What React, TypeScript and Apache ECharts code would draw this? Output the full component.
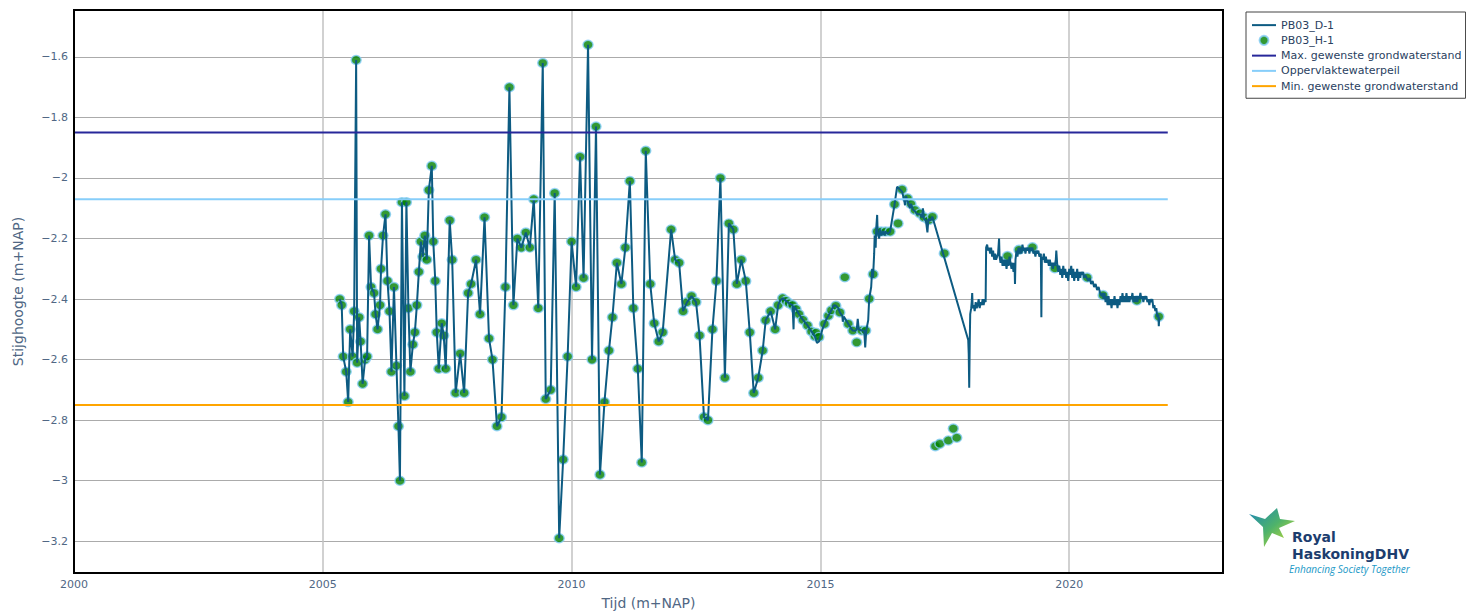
import React, { useEffect, useRef } from "react";
import * as echarts from "echarts";

// ---- data (decimal year, m+NAP) ----
// manual measurements PB03_H-1 that are also the vertices of the early PB03_D-1 line
const h1Early: number[][] = [
  [2005.34, -2.40], [2005.38, -2.42], [2005.41, -2.59], [2005.47, -2.64], [2005.51, -2.74],
  [2005.55, -2.50], [2005.60, -2.59], [2005.63, -2.44], [2005.67, -1.61], [2005.69, -2.61],
  [2005.73, -2.46], [2005.76, -2.54], [2005.80, -2.68], [2005.85, -2.60], [2005.89, -2.59],
  [2005.93, -2.19], [2005.97, -2.36], [2006.03, -2.38], [2006.06, -2.45], [2006.10, -2.50],
  [2006.15, -2.42], [2006.17, -2.30], [2006.21, -2.19], [2006.26, -2.12], [2006.30, -2.34],
  [2006.34, -2.44], [2006.38, -2.64], [2006.43, -2.36], [2006.48, -2.62], [2006.52, -2.82],
  [2006.55, -3.00], [2006.59, -2.08], [2006.64, -2.72], [2006.68, -2.08], [2006.72, -2.43],
  [2006.76, -2.64], [2006.81, -2.55], [2006.85, -2.51], [2006.89, -2.42], [2006.93, -2.31],
  [2006.97, -2.21], [2007.01, -2.26], [2007.05, -2.19], [2007.09, -2.27], [2007.13, -2.04],
  [2007.19, -1.96], [2007.22, -2.21], [2007.26, -2.34], [2007.29, -2.51], [2007.33, -2.63],
  [2007.39, -2.48], [2007.43, -2.52], [2007.47, -2.63], [2007.55, -2.14], [2007.60, -2.27],
  [2007.67, -2.71], [2007.76, -2.58], [2007.84, -2.71], [2007.92, -2.38], [2007.98, -2.35],
  [2008.08, -2.27], [2008.16, -2.45], [2008.25, -2.13], [2008.34, -2.53], [2008.41, -2.60],
  [2008.50, -2.82], [2008.59, -2.79], [2008.67, -2.36], [2008.75, -1.70], [2008.83, -2.42],
  [2008.91, -2.20], [2008.99, -2.23], [2009.08, -2.18], [2009.16, -2.23], [2009.24, -2.07],
  [2009.33, -2.43], [2009.42, -1.62], [2009.48, -2.73], [2009.58, -2.70], [2009.66, -2.05],
  [2009.75, -3.19], [2009.83, -2.93], [2009.92, -2.59], [2010.00, -2.21], [2010.09, -2.36],
  [2010.17, -1.93], [2010.24, -2.33], [2010.33, -1.56], [2010.41, -2.60], [2010.49, -1.83],
  [2010.57, -2.98], [2010.66, -2.74], [2010.75, -2.57], [2010.82, -2.46], [2010.91, -2.28],
  [2011.00, -2.35], [2011.08, -2.23], [2011.17, -2.01], [2011.24, -2.43], [2011.33, -2.63],
  [2011.41, -2.94], [2011.49, -1.91], [2011.58, -2.35], [2011.66, -2.48], [2011.75, -2.54],
  [2011.83, -2.51], [2012.00, -2.17], [2012.08, -2.27], [2012.16, -2.28], [2012.24, -2.44],
  [2012.32, -2.41], [2012.41, -2.39], [2012.50, -2.41], [2012.57, -2.52], [2012.66, -2.79],
  [2012.74, -2.80], [2012.83, -2.50], [2012.91, -2.34], [2012.99, -2.00], [2013.08, -2.66],
  [2013.16, -2.15], [2013.25, -2.17], [2013.32, -2.35], [2013.41, -2.27], [2013.50, -2.34],
  [2013.58, -2.51], [2013.66, -2.71], [2013.75, -2.66], [2013.84, -2.57], [2013.90, -2.47],
  [2014.00, -2.44], [2014.09, -2.50], [2014.15, -2.42],
];

// later manual measurements PB03_H-1 (markers only)
const h1Late: number[][] = [
  [2014.24, -2.397], [2014.31, -2.406], [2014.37, -2.414], [2014.44, -2.420], [2014.51, -2.433],
  [2014.57, -2.450], [2014.65, -2.469], [2014.74, -2.487], [2014.82, -2.507], [2014.89, -2.523],
  [2014.91, -2.511], [2014.97, -2.525], [2015.08, -2.482], [2015.16, -2.455], [2015.22, -2.437],
  [2015.31, -2.422], [2015.39, -2.444], [2015.49, -2.328], [2015.56, -2.482], [2015.65, -2.504],
  [2015.73, -2.543], [2015.83, -2.504], [2015.91, -2.504], [2015.98, -2.399], [2016.06, -2.318],
  [2016.14, -2.177], [2016.22, -2.177], [2016.31, -2.177], [2016.40, -2.177], [2016.49, -2.087],
  [2016.56, -2.150], [2016.64, -2.038], [2016.75, -2.067], [2016.82, -2.086], [2016.90, -2.106],
  [2017.00, -2.117], [2017.08, -2.130], [2017.18, -2.139], [2017.25, -2.128], [2017.49, -2.249],
  [2017.31, -2.886], [2017.40, -2.878], [2017.57, -2.867], [2017.67, -2.828], [2017.74, -2.858],
  [2018.76, -2.258], [2018.99, -2.237], [2019.26, -2.229], [2019.71, -2.298], [2020.36, -2.329],
  [2020.68, -2.387], [2021.36, -2.405], [2021.80, -2.458],
];

// logger PB03_D-1 (dense part)
const diverLate: number[][] = [
  [2014.19, -2.405], [2014.24, -2.397], [2014.31, -2.406], [2014.37, -2.414], [2014.44, -2.420],
  [2014.46, -2.500], [2014.47, -2.425], [2014.51, -2.433], [2014.57, -2.450], [2014.65, -2.469],
  [2014.74, -2.487], [2014.82, -2.507], [2014.89, -2.523], [2014.93, -2.545], [2014.97, -2.540],
  [2015.00, -2.525], [2015.04, -2.500], [2015.08, -2.482], [2015.12, -2.466], [2015.16, -2.455],
  [2015.22, -2.437], [2015.27, -2.420], [2015.31, -2.422], [2015.36, -2.430], [2015.39, -2.444],
  [2015.44, -2.456], [2015.45, -2.475], [2015.47, -2.458], [2015.56, -2.482], [2015.61, -2.495],
  [2015.65, -2.504], [2015.70, -2.505], [2015.73, -2.500], [2015.75, -2.465], [2015.77, -2.500],
  [2015.83, -2.504], [2015.88, -2.504], [2015.90, -2.560], [2015.92, -2.505], [2015.96, -2.470],
  [2015.98, -2.399], [2016.02, -2.360], [2016.04, -2.300], [2016.05, -2.330], [2016.06, -2.318],
  [2016.08, -2.250], [2016.09, -2.190], [2016.11, -2.230], [2016.12, -2.170], [2016.14, -2.122],
  [2016.15, -2.180], [2016.18, -2.200], [2016.20, -2.170], [2016.23, -2.190], [2016.26, -2.175],
  [2016.29, -2.190], [2016.31, -2.176], [2016.35, -2.185], [2016.40, -2.177], [2016.49, -2.087],
  [2016.54, -2.029], [2016.58, -2.035], [2016.64, -2.045], [2016.68, -2.070], [2016.70, -2.090],
  [2016.72, -2.060], [2016.75, -2.075], [2016.80, -2.100], [2016.82, -2.085], [2016.86, -2.105],
  [2016.90, -2.110], [2016.95, -2.120], [2017.00, -2.120], [2017.04, -2.130], [2017.06, -2.100],
  [2017.08, -2.135], [2017.12, -2.140], [2017.15, -2.180], [2017.17, -2.135], [2017.21, -2.140],
  [2017.25, -2.128], [2017.97, -2.535], [2017.98, -2.580], [2017.99, -2.693], [2018.00, -2.550],
  [2018.01, -2.450], [2018.03, -2.430], [2018.04, -2.410], [2018.05, -2.380], [2018.06, -2.430],
  [2018.08, -2.420], [2018.10, -2.440], [2018.12, -2.410], [2018.14, -2.430], [2018.16, -2.420],
  [2018.18, -2.400], [2018.20, -2.430], [2018.22, -2.410], [2018.24, -2.420], [2018.26, -2.400],
  [2018.28, -2.420], [2018.30, -2.400], [2018.32, -2.410], [2018.33, -2.230], [2018.35, -2.220],
  [2018.37, -2.240], [2018.39, -2.230], [2018.41, -2.250], [2018.43, -2.230], [2018.45, -2.260],
  [2018.47, -2.240], [2018.49, -2.270], [2018.51, -2.250], [2018.53, -2.270], [2018.55, -2.260],
  [2018.57, -2.250], [2018.59, -2.200], [2018.60, -2.260], [2018.62, -2.280], [2018.64, -2.260],
  [2018.66, -2.290], [2018.68, -2.270], [2018.70, -2.290], [2018.72, -2.270], [2018.74, -2.300],
  [2018.76, -2.270], [2018.78, -2.290], [2018.80, -2.260], [2018.82, -2.280], [2018.84, -2.300],
  [2018.86, -2.280], [2018.88, -2.310], [2018.90, -2.280], [2018.91, -2.350], [2018.92, -2.270],
  [2018.94, -2.240], [2018.96, -2.260], [2018.98, -2.230], [2019.00, -2.250], [2019.02, -2.230],
  [2019.04, -2.250], [2019.06, -2.220], [2019.08, -2.240], [2019.10, -2.230], [2019.12, -2.250],
  [2019.14, -2.230], [2019.16, -2.240], [2019.18, -2.230], [2019.20, -2.250], [2019.22, -2.230],
  [2019.24, -2.240], [2019.26, -2.230], [2019.28, -2.250], [2019.30, -2.240], [2019.32, -2.260],
  [2019.34, -2.240], [2019.36, -2.250], [2019.38, -2.240], [2019.40, -2.260], [2019.43, -2.250],
  [2019.44, -2.460], [2019.45, -2.260], [2019.47, -2.270], [2019.49, -2.250], [2019.51, -2.280],
  [2019.53, -2.260], [2019.55, -2.280], [2019.57, -2.270], [2019.59, -2.290], [2019.61, -2.270],
  [2019.63, -2.290], [2019.65, -2.280], [2019.67, -2.300], [2019.69, -2.280], [2019.71, -2.290],
  [2019.73, -2.270], [2019.74, -2.240], [2019.76, -2.290], [2019.78, -2.310], [2019.80, -2.290],
  [2019.82, -2.320], [2019.84, -2.300], [2019.86, -2.330], [2019.88, -2.290], [2019.90, -2.320],
  [2019.92, -2.300], [2019.94, -2.330], [2019.96, -2.310], [2019.98, -2.340], [2020.00, -2.300],
  [2020.02, -2.320], [2020.04, -2.290], [2020.06, -2.330], [2020.08, -2.300], [2020.10, -2.340],
  [2020.12, -2.310], [2020.14, -2.330], [2020.16, -2.300], [2020.18, -2.340], [2020.20, -2.310],
  [2020.22, -2.330], [2020.24, -2.310], [2020.26, -2.320], [2020.28, -2.310], [2020.30, -2.330],
  [2020.32, -2.320], [2020.35, -2.330], [2020.38, -2.340], [2020.41, -2.330], [2020.44, -2.350],
  [2020.47, -2.340], [2020.50, -2.360], [2020.53, -2.350], [2020.56, -2.370], [2020.59, -2.360],
  [2020.62, -2.380], [2020.65, -2.390], [2020.67, -2.380], [2020.69, -2.400], [2020.71, -2.380],
  [2020.73, -2.410], [2020.75, -2.390], [2020.77, -2.420], [2020.79, -2.390], [2020.81, -2.420],
  [2020.83, -2.400], [2020.85, -2.430], [2020.87, -2.400], [2020.89, -2.420], [2020.91, -2.390],
  [2020.93, -2.420], [2020.95, -2.400], [2020.97, -2.430], [2020.99, -2.400], [2021.01, -2.420],
  [2021.03, -2.390], [2021.05, -2.410], [2021.07, -2.380], [2021.09, -2.410], [2021.11, -2.390],
  [2021.13, -2.410], [2021.15, -2.380], [2021.17, -2.410], [2021.19, -2.390], [2021.21, -2.410],
  [2021.23, -2.390], [2021.25, -2.400], [2021.27, -2.380], [2021.29, -2.410], [2021.31, -2.390],
  [2021.33, -2.410], [2021.35, -2.390], [2021.37, -2.410], [2021.39, -2.390], [2021.41, -2.400],
  [2021.43, -2.380], [2021.45, -2.400], [2021.47, -2.390], [2021.49, -2.410], [2021.51, -2.390],
  [2021.53, -2.400], [2021.55, -2.390], [2021.57, -2.410], [2021.59, -2.400], [2021.61, -2.420],
  [2021.63, -2.400], [2021.65, -2.410], [2021.67, -2.400], [2021.69, -2.430], [2021.71, -2.420],
  [2021.73, -2.440], [2021.75, -2.430], [2021.77, -2.460], [2021.79, -2.450], [2021.80, -2.490],
  [2021.81, -2.460],
];

// reference levels
const maxLevel = -1.85;
const surfaceLevel = -2.07;
const minLevel = -2.75;
const refStart = 2000;
const refEnd = 2021.98;

const seriesNames = [
  "PB03_D-1",
  "PB03_H-1",
  "Max. gewenste grondwaterstand",
  "Oppervlaktewaterpeil",
  "Min. gewenste grondwaterstand",
];

const FONT = "DejaVu Sans";
const AXIS_COLOR = "#506784";
const LINE_ICON = "path://M0,0L24,0L24,2L0,2Z";

export default function App() {
  const ref = useRef<HTMLDivElement>(null);

  useEffect(() => {
    if (!ref.current) return;
    const chart = echarts.init(ref.current, undefined, { renderer: "svg" });

    const diverData = [...h1Early, ...diverLate];
    const h1Data = [...h1Early, ...h1Late];
    const refLine = (v: number) => [
      [refStart, v],
      [refEnd, v],
    ];

    const starPoints = [
      [1249, 514], [1265, 519], [1277, 508], [1280, 519], [1295, 521],
      [1279, 528], [1284, 538], [1272, 533], [1264, 547], [1263, 527],
    ];

    chart.setOption({
      animation: false,
      grid: {
        left: 74,
        top: 10,
        width: 1149,
        height: 566,
        show: true,
        borderColor: "#000",
        borderWidth: 2,
        backgroundColor: "transparent",
        z: 10,
      },
      xAxis: {
        type: "value",
        min: 2000,
        max: 2023.09,
        interval: 5,
        name: "Tijd (m+NAP)",
        nameLocation: "middle",
        nameGap: 23,
        nameTextStyle: { fontSize: 14, color: AXIS_COLOR, fontFamily: FONT },
        axisLine: { show: false },
        axisTick: { show: false },
        axisLabel: {
          showMaxLabel: false,
          fontSize: 11,
          color: AXIS_COLOR,
          fontFamily: FONT,
          margin: 6,
          formatter: (v: number) => String(Math.round(v)),
        },
        splitLine: { show: true, lineStyle: { color: "#c2c2c2", width: 1.5 } },
      },
      yAxis: {
        type: "value",
        min: -3.305,
        max: -1.445,
        splitNumber: 9,
        name: "Stijghoogte (m+NAP)",
        nameLocation: "middle",
        nameGap: 49,
        nameTextStyle: { fontSize: 14, color: AXIS_COLOR, fontFamily: FONT },
        axisLine: { show: false },
        axisTick: { show: false },
        axisLabel: {
          showMinLabel: false,
          showMaxLabel: false,
          fontSize: 11,
          color: AXIS_COLOR,
          fontFamily: FONT,
          margin: 6,
          formatter: (v: number) =>
            String(Math.round(v * 10) / 10).replace("-", "\u2212"),
        },
        splitLine: { show: true, lineStyle: { color: "#ababab", width: 1 } },
      },
      legend: {
        data: [
          { name: seriesNames[0], icon: LINE_ICON },
          { name: seriesNames[1], icon: "circle" },
          { name: seriesNames[2], icon: LINE_ICON },
          { name: seriesNames[3], icon: LINE_ICON },
          { name: seriesNames[4], icon: LINE_ICON },
        ],
        orient: "vertical",
        left: 1246,
        top: 12,
        itemWidth: 24,
        itemHeight: 9,
        itemGap: 3,
        padding: [7, 4, 6, 6],
        borderColor: "#444",
        borderWidth: 1,
        textStyle: {
          fontSize: 11,
          fontFamily: FONT,
          color: "#2a3f5f",
          lineHeight: 12.25,
        },
      },
      graphic: [
        {
          type: "polygon",
          shape: { points: starPoints },
          style: {
            fill: new echarts.graphic.LinearGradient(0, 0, 1, 1, [
              { offset: 0, color: "#1b86b8" },
              { offset: 0.5, color: "#4fb36a" },
              { offset: 1, color: "#dbe32c" },
            ]),
          },
        },
        {
          type: "text",
          x: 1292,
          y: 537,
          style: {
            text: "Royal",
            fill: "#1c3d6e",
            font: "bold 14px 'DejaVu Sans'",
            verticalAlign: "middle",
          },
        },
        {
          type: "text",
          x: 1292,
          y: 553.5,
          style: {
            text: "HaskoningDHV",
            fill: "#1c3d6e",
            font: "bold 14px 'DejaVu Sans'",
            verticalAlign: "middle",
          },
        },
        {
          type: "text",
          x: 1289,
          y: 568.5,
          style: {
            text: "Enhancing Society Together",
            fill: "#1a98c6",
            font: "italic 10px 'Open Sans'",
            verticalAlign: "middle",
          },
        },
      ],
      series: [
        {
          name: seriesNames[0],
          type: "line",
          data: diverData,
          symbol: "none",
          lineStyle: { color: "#0d5b82", width: 2 },
          itemStyle: { color: "#0d5b82" },
        },
        {
          name: seriesNames[1],
          type: "scatter",
          data: h1Data,
          symbol: "circle",
          symbolSize: [10, 9],
          itemStyle: { color: "#008000", borderColor: "#87cefa", borderWidth: 1.5 },
        },
        {
          name: seriesNames[2],
          type: "line",
          data: refLine(maxLevel),
          symbol: "none",
          lineStyle: { color: "#27279a", width: 2 },
          itemStyle: { color: "#27279a" },
        },
        {
          name: seriesNames[3],
          type: "line",
          data: refLine(surfaceLevel),
          symbol: "none",
          lineStyle: { color: "#87cefa", width: 2 },
          itemStyle: { color: "#87cefa" },
        },
        {
          name: seriesNames[4],
          type: "line",
          data: refLine(minLevel),
          symbol: "none",
          lineStyle: { color: "#ffa500", width: 2 },
          itemStyle: { color: "#ffa500" },
        },
      ],
    });

    return () => chart.dispose();
  }, []);

  return (
    <div
      ref={ref}
      style={{ position: "absolute", left: 0, top: 0, width: 1466, height: 615, background: "#fff" }}
    />
  );
}
